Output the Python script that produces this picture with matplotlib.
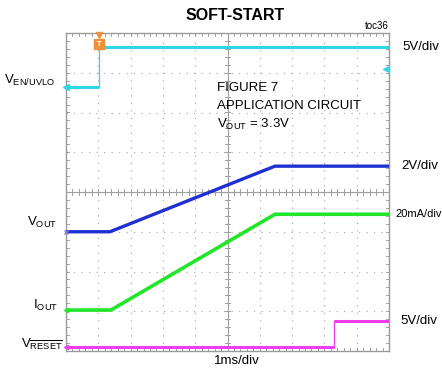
import matplotlib
matplotlib.use("Agg")
import matplotlib.pyplot as plt
from matplotlib import font_manager
import numpy as np

# ---- data (time in divisions, amplitude in screen divisions) ----
cyan_t = [0.0, 1.03, 1.03, 10.0]
cyan_v = [6.64, 6.64, 7.64, 7.64]
blue_t = [0.0, 1.36, 6.47, 10.0]
blue_v = [3.00, 3.00, 4.65, 4.65]
green_t = [0.0, 1.39, 6.47, 10.0]
green_v = [1.03, 1.03, 3.44, 3.44]
mag_t = [0.0, 8.31, 8.31, 10.0]
mag_v = [0.09, 0.09, 0.76, 0.76]

right_labels = ["5V/div", "2V/div", "20mA/div", "5V/div"]

# ---- fonts ----
names = {f.name for f in font_manager.fontManager.ttflist}
FONT = "Liberation Sans Narrow" if "Liberation Sans Narrow" in names else "Liberation Sans"
plt.rcParams["font.family"] = [FONT, "DejaVu Sans"]
plt.rcParams["mathtext.fontset"] = "custom"
plt.rcParams["mathtext.rm"] = FONT
plt.rcParams["mathtext.it"] = FONT
plt.rcParams["mathtext.bf"] = FONT + ":bold"

W, H = 442, 376
fig = plt.figure(figsize=(W / 100, H / 100), dpi=100)
x0, x1, y0, y1 = 66, 389, 33, 351
ax = fig.add_axes([x0 / W, 1 - y1 / H, (x1 - x0) / W, (y1 - y0) / H])
ax.set_xlim(0, 10)
ax.set_ylim(0, 8)

def px(x, y):
    return x / W, 1 - y / H

def ypix(v):
    # screen-division value -> figure pixel row
    return y1 - v * (y1 - y0) / 8.0

grid_c = "#b0b0b0"
for gx in range(1, 10):
    ax.axvline(gx, color=grid_c, lw=0.9, ls=(0, (1, 5)), zorder=1)
for gy in range(1, 8):
    ax.axhline(gy, color=grid_c, lw=0.9, ls=(0, (1, 5)), zorder=1)
ax.axvline(5, color="#a0a0a0", lw=0.8, zorder=1)
ax.axhline(4, color="#a0a0a0", lw=0.8, zorder=1)
for t in np.arange(0.2, 10, 0.2):
    ax.plot([t, t], [4 - 0.07, 4 + 0.07], color="#a0a0a0", lw=0.7, zorder=1)
    ax.plot([t, t], [0, 0.08], color="#a0a0a0", lw=0.7, zorder=1)
    ax.plot([t, t], [8 - 0.08, 8], color="#a0a0a0", lw=0.7, zorder=1)
for t in np.arange(0.2, 8, 0.2):
    ax.plot([5 - 0.09, 5 + 0.09], [t, t], color="#a0a0a0", lw=0.7, zorder=1)
    ax.plot([0, 0.1], [t, t], color="#a0a0a0", lw=0.7, zorder=1)
    ax.plot([10 - 0.1, 10], [t, t], color="#a0a0a0", lw=0.7, zorder=1)

ax.set_xticks([])
ax.set_yticks([])
for s in ax.spines.values():
    s.set_color("#9a9a9a")
    s.set_linewidth(1.0)

# ---- traces ----
CY, BL, GR, MG = "#2fd6e6", "#1f2fd2", "#22e62a", "#f03cf0"
ax.plot(cyan_t, cyan_v, color=CY, lw=0.9, zorder=3)
ax.plot(cyan_t[:2], cyan_v[:2], color=CY, lw=2.2, zorder=3, solid_capstyle="butt")
ax.plot(cyan_t[2:], cyan_v[2:], color=CY, lw=2.2, zorder=3, solid_capstyle="butt")
ax.plot(blue_t, blue_v, color=BL, lw=2.4, zorder=3)
ax.plot(green_t, green_v, color=GR, lw=2.6, zorder=3)
ax.plot(mag_t, mag_v, color=MG, lw=0.9, zorder=3)
ax.plot(mag_t[:2], mag_v[:2], color=MG, lw=2.2, zorder=3, solid_capstyle="butt")
ax.plot(mag_t[2:], mag_v[2:], color=MG, lw=2.2, zorder=3, solid_capstyle="butt")

# channel reference markers
ax.plot([0.0], [cyan_v[0]], marker="<", ms=4, color=CY, clip_on=False, zorder=4)
ax.plot([0.0], [blue_v[0]], marker="x", ms=3, color="#8080d0", clip_on=False, zorder=4)
ax.plot([0.0], [green_v[0]], marker="<", ms=3, color=GR, clip_on=False, zorder=4)
ax.plot([0.0], [mag_v[0]], marker="<", ms=3, color=MG, clip_on=False, zorder=4)
ax.plot([9.9], [7.09], marker="<", ms=4, color=CY, clip_on=False, zorder=4)
# trigger marker
ax.plot([cyan_t[1]], [7.95], marker="v", ms=4, color="#f0903a", clip_on=False, zorder=5)
ax.plot([cyan_t[1]], [7.72], marker="s", ms=7, color="#f0903a", clip_on=False, zorder=5)
ax.text(cyan_t[1], 7.72, "T", color="white", fontsize=5.5, ha="center", va="center",
        fontweight="bold", zorder=6)

# ---- texts ----
fig.text(*px(235, 16), "SOFT-START", fontsize=11.5, fontweight="bold", ha="center", va="center")
fig.text(*px(389, 26), "toc36", fontsize=7, ha="right", va="center")
fig.text(*px(217, 88), "FIGURE 7", fontsize=9.5, ha="left", va="center")
fig.text(*px(217, 106), "APPLICATION CIRCUIT", fontsize=9.5, ha="left", va="center")
fig.text(*px(217, 124), r"V$_{\mathrm{OUT}}$ = 3.3V", fontsize=9.5, ha="left", va="center")
fig.text(*px(237, 361), "1ms/div", fontsize=9.5, ha="center", va="center")

fig.text(*px(55, 80), r"V$_{\mathrm{EN/UVLO}}$", fontsize=9.5, ha="right", va="center")
fig.text(*px(57, 222), r"V$_{\mathrm{OUT}}$", fontsize=9.5, ha="right", va="center")
fig.text(*px(58, 305), r"I$_{\mathrm{OUT}}$", fontsize=9.5, ha="right", va="center")
fig.text(*px(63, 344), r"V$_{\overline{\mathrm{RESET}}}$", fontsize=9.5, ha="right", va="center")

right_x = [402, 401, 395, 400]
right_y = [ypix(cyan_v[-1]), ypix(blue_v[-1]), ypix(green_v[-1]), ypix(mag_v[-1])]
right_fs = [9.5, 9.5, 8.0, 9.5]
for lab, xr, yr, fs in zip(right_labels, right_x, right_y, right_fs):
    fig.text(*px(xr, yr), lab, fontsize=fs, ha="left", va="center")

fig.savefig("out.png", dpi=100)
